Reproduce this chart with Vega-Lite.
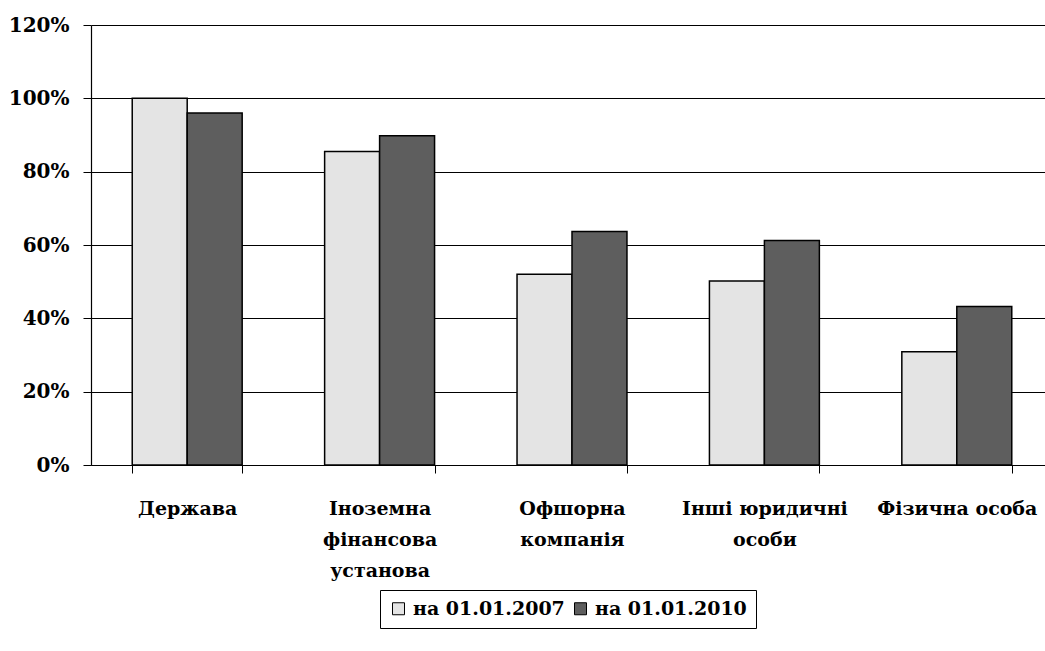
{
  "$schema": "https://vega.github.io/schema/vega-lite/v6.json",
  "autosize": {"type": "none"},
  "width": 962,
  "height": 440,
  "padding": {"left": 91, "top": 25, "right": 0, "bottom": 186},
  "background": "white",
  "data": {
    "values": [
      {"category": "Держава", "series": "на 01.01.2007", "value": 1.0},
      {"category": "Держава", "series": "на 01.01.2010", "value": 0.96},
      {"category": "Іноземна фінансова установа", "series": "на 01.01.2007", "value": 0.855},
      {"category": "Іноземна фінансова установа", "series": "на 01.01.2010", "value": 0.898},
      {"category": "Офшорна компанія", "series": "на 01.01.2007", "value": 0.52},
      {"category": "Офшорна компанія", "series": "на 01.01.2010", "value": 0.637},
      {"category": "Інші юридичні особи", "series": "на 01.01.2007", "value": 0.502},
      {"category": "Інші юридичні особи", "series": "на 01.01.2010", "value": 0.612},
      {"category": "Фізична особа", "series": "на 01.01.2007", "value": 0.309},
      {"category": "Фізична особа", "series": "на 01.01.2010", "value": 0.432}
    ]
  },
  "mark": {"type": "bar", "stroke": "black", "strokeWidth": 1.5},
  "encoding": {
    "x": {
      "field": "category",
      "type": "nominal",
      "sort": null,
      "scale": {"paddingInner": 0.4286, "paddingOuter": 0.2143},
      "axis": {
        "title": null,
        "labelAngle": 0,
        "tickBand": "extent",
        "tickSize": 8,
        "tickColor": "black",
        "domainColor": "black",
        "domainWidth": 1.2,
        "labelFont": "DejaVu Serif",
        "labelFontWeight": "bold",
        "labelFontSize": 19,
        "labelColor": "black",
        "labelPadding": 26,
        "labelLineHeight": 31,
        "labelLimit": 300,
        "labelExpr": "datum.value == 'Іноземна фінансова установа' ? ['Іноземна', 'фінансова', 'установа'] : datum.value == 'Офшорна компанія' ? ['Офшорна', 'компанія'] : datum.value == 'Інші юридичні особи' ? ['Інші юридичні', 'особи'] : datum.value"
      }
    },
    "xOffset": {
      "field": "series",
      "type": "nominal",
      "scale": {"paddingInner": 0, "paddingOuter": 0}
    },
    "y": {
      "field": "value",
      "type": "quantitative",
      "scale": {"domain": [0, 1.2], "nice": false},
      "axis": {
        "title": null,
        "format": ".0%",
        "values": [0, 0.2, 0.4, 0.6, 0.8, 1.0, 1.2],
        "grid": true,
        "gridColor": "black",
        "gridWidth": 1.2,
        "gridOpacity": 1,
        "tickSize": 8,
        "tickColor": "black",
        "domainColor": "black",
        "domainWidth": 1.2,
        "labelFont": "DejaVu Serif",
        "labelFontWeight": "bold",
        "labelFontSize": 20,
        "labelColor": "black",
        "labelPadding": 14
      }
    },
    "color": {
      "field": "series",
      "type": "nominal",
      "scale": {"range": ["#e4e4e4", "#5e5e5e"]},
      "legend": {
        "title": null,
        "orient": "none",
        "direction": "horizontal",
        "legendX": 289,
        "legendY": 565,
        "strokeColor": "black",
        "padding": 9,
        "symbolType": "square",
        "symbolSize": 144,
        "symbolStrokeColor": "black",
        "symbolStrokeWidth": 1,
        "labelFont": "DejaVu Serif",
        "labelFontWeight": "bold",
        "labelFontSize": 19,
        "labelColor": "black",
        "labelOffset": 5,
        "columnPadding": 6,
        "labelLimit": 300
      }
    }
  },
  "config": {"view": {"stroke": null}}
}
